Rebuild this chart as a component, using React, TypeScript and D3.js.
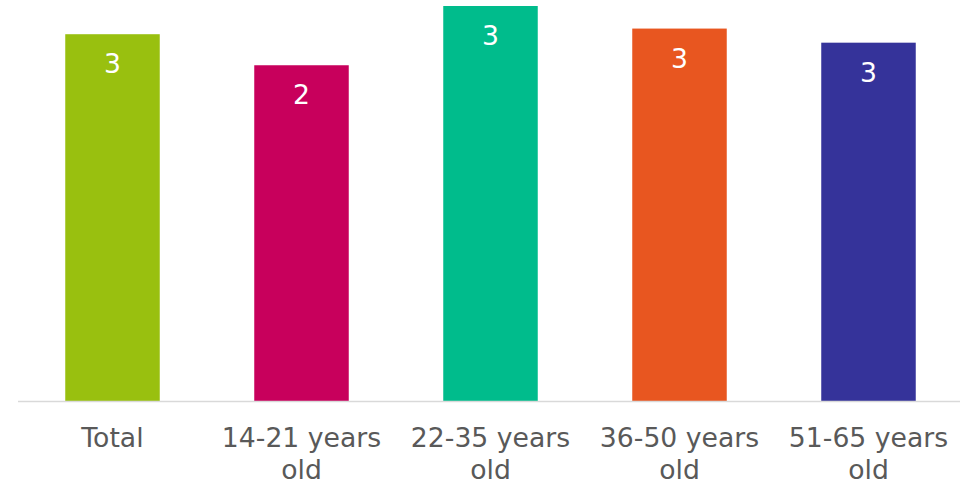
import React from "react";
import * as d3 from "d3";

// Average score per age group
const categories: string[][] = [
  ["Total"],
  ["14-21 years", "old"],
  ["22-35 years", "old"],
  ["36-50 years", "old"],
  ["51-65 years", "old"],
];
const values: number[] = [2.6, 2.38, 2.8, 2.64, 2.54];
const colors: string[] = ["#99c00f", "#c8005c", "#00bc8c", "#e85620", "#35339a"];

const WIDTH = 960;
const HEIGHT = 482;
const FONT = "Verdana, 'DejaVu Sans', sans-serif";

export default function App() {
  const keys = categories.map((c) => c.join(" "));
  const x = d3
    .scaleBand<string>()
    .domain(keys)
    .range([18, 963])
    .paddingInner(0.5)
    .paddingOuter(0.25);
  const y = d3.scaleLinear().domain([0, 2.8]).range([401, 6]);
  const fmt = d3.format(".0f");

  return (
    <svg
      width={WIDTH}
      height={HEIGHT}
      style={{ position: "absolute", left: 0, top: 0, display: "block", background: "#fff" }}
      fontFamily={FONT}
    >
      {values.map((v, i) => {
        const bx = x(keys[i])!;
        return (
          <g key={keys[i]}>
            <rect x={bx} y={y(v)} width={x.bandwidth()} height={y(0) - y(v)} fill={colors[i]} />
            <text
              x={bx + x.bandwidth() / 2}
              y={y(v) + 39}
              textAnchor="middle"
              fontSize={26.67}
              fill="#ffffff"
            >
              {fmt(v)}
            </text>
          </g>
        );
      })}
      <line x1={18} x2={960} y1={401.5} y2={401.5} stroke="#d9d9d9" strokeWidth={1.5} />
      {categories.map((lines, i) => (
        <text
          key={keys[i]}
          x={x(keys[i])! + x.bandwidth() / 2}
          y={447}
          textAnchor="middle"
          fontSize={26.67}
          fill="#595959"
        >
          {lines.map((l, j) => (
            <tspan key={j} x={x(keys[i])! + x.bandwidth() / 2} dy={j === 0 ? 0 : 32}>
              {l}
            </tspan>
          ))}
        </text>
      ))}
    </svg>
  );
}
